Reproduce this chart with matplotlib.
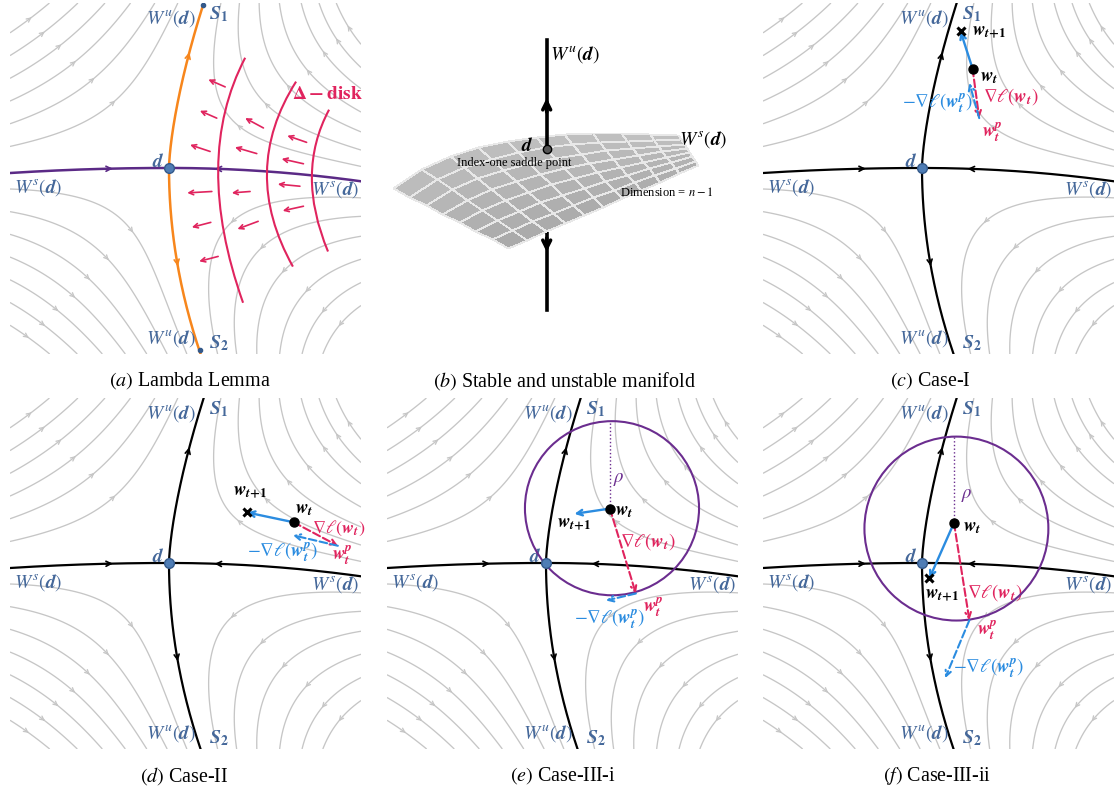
import numpy as np
import matplotlib.pyplot as plt
from matplotlib.path import Path
from matplotlib.patches import PathPatch, Circle

plt.rcParams["font.family"] = ["Liberation Serif", "DejaVu Serif"]
plt.rcParams["mathtext.fontset"] = "stix"

# ---- panel geometry (saddle d at origin, 35.1 px per unit) ----
XLIM = (-4.53, 5.47)
YLIM = (-5.30, 4.70)

# streamline seeds
LEFT_SEEDS_Y = [0.62, 1.27, 1.92, 2.57, 3.22, 3.87, 4.52,
                -0.60, -1.25, -1.90, -2.55, -3.20, -3.85, -4.50, -5.15]
RIGHT_SEEDS_Y = [0.05, 0.52, 1.04, 1.61, 2.28, 2.89, 3.56, 4.18,
                 -0.85, -1.38, -1.95, -2.61, -3.28, -3.94, -4.70]

WU_ARROW_Y = [3.3, -2.8]
WS_ARROW_X = [-1.6, 1.3]

# ---- panel (a) ----
A_S1 = (0.98, 4.65)
A_S2 = (0.88, -5.18)
A_DISK_TOP = [(2.17, 3.14), (3.62, 2.46), (4.56, 1.66)]
A_DISK_MID = [(1.40, -0.05), (2.79, -0.13), (4.07, -0.25)]
A_DISK_BOT = [(2.11, -3.84), (3.53, -2.81), (4.53, -2.38)]
A_ARROW_TAIL = [(1.60, 2.31), (1.36, 1.42), (1.17, 0.47), (2.69, 1.14), (2.50, 0.41),
                (3.92, 0.73), (3.83, 0.12), (3.73, -0.52), (1.22, -0.67), (2.31, -0.67),
                (3.83, -1.09), (1.19, -1.55), (2.54, -1.52), (1.40, -2.52)]
A_ARROW_HEAD = [(1.12, 2.52), (0.88, 1.63), (0.60, 0.66), (2.17, 1.42), (1.88, 0.59),
                (3.37, 0.92), (3.21, 0.26), (3.10, -0.46), (0.52, -0.71), (1.79, -0.71),
                (3.24, -1.22), (0.65, -1.69), (1.95, -1.74), (0.86, -2.66)]

# ---- panels (c)-(f): iterate positions ----
C_PTS = {"wt": (1.44, 2.83), "wt1": (1.10, 3.89), "wtp": (1.63, 1.42), "neg": (1.35, 2.42)}
D_PTS = {"wt": (3.55, 1.16), "wt1": (2.22, 1.44), "wtp": (4.81, 0.49), "neg": (3.53, 0.79)}
E_PTS = {"wt": (1.82, 1.55), "wt1": (0.81, 1.40), "wtp": (2.56, -0.87), "neg": (1.71, -1.07)}
F_PTS = {"wt": (0.91, 1.14), "wt1": (0.21, -0.44), "wtp": (1.35, -1.63), "neg": (0.66, -3.28)}
E_CIRCLE = (1.88, 1.56, 2.48)
F_CIRCLE = (0.98, 0.98, 2.62)

# ---- panel (b): surface corners in pixel space ----
B_CORNERS = {"L": (393, 188), "B": (678, 135), "F": (508, 248), "R": (698, 165)}
B_AXIS_X = 546.7
B_AXIS_Y = [40, 149, 310]

CAPTIONS = [(190, 381, "(a)", "Lambda Lemma"),
            (564, 381, "(b)", "Stable and unstable manifold"),
            (930, 381, "(c)", "Case-I"),
            (184, 776, "(d)", "Case-II"),
            (563, 776, "(e)", "Case-III-i"),
            (937, 776, "(f)", "Case-III-ii")]

LBL = "#45689a"
CRIMSON = "#e0245e"
BLUE = "#2b8ce0"
PURPLE = "#6b2d8f"
GRAY = "#c6c6c6"

WU = r"$W^{u}(\boldsymbol{d})$"
WS = r"$W^{s}(\boldsymbol{d})$"
WT = r"$\boldsymbol{w}_{\boldsymbol{t}}$"
WT1 = r"$\boldsymbol{w}_{\boldsymbol{t}\mathbf{+1}}$"
GRAD = r"$\nabla\ell(\boldsymbol{w}_{\boldsymbol{t}})$"
NEG = r"$-\nabla\ell(\boldsymbol{w}_{\boldsymbol{t}}^{\boldsymbol{p}})$"
WTP = r"$\boldsymbol{w}_{\boldsymbol{t}}^{\boldsymbol{p}}$"
FS = 13.5


def g(y):
    y = np.asarray(y, float)
    return np.where(y >= 0, 0.097 * np.abs(y) ** 1.5, 0.032 * y ** 2)


def gp(y):
    return np.where(y >= 0, 0.1455 * np.sqrt(np.abs(y)), 0.064 * y)


def h(x):
    x = np.asarray(x, float)
    return np.where(x >= 0, -0.0127, -0.007) * x ** 2


def hp(x):
    return 2 * np.where(x >= 0, -0.0127, -0.007) * x


def field(X, Y):
    xi = X - g(Y)
    eta = Y - h(X)
    a, b = gp(Y), hp(X)
    U = (-xi + a * eta) / (1 - a * b)
    V = eta + b * U
    return U, V


def panel(rect, flow_color="black", ws_color="black", lw=1.6):
    l, t = rect
    ax = fig.add_axes([l / 1114, 1 - (t + 351) / 798, 351 / 1114, 351 / 798])
    ax.set_xlim(*XLIM)
    ax.set_ylim(*YLIM)
    ax.set_axis_off()
    xs = np.linspace(XLIM[0], XLIM[1], 220)
    ys = np.linspace(YLIM[0], YLIM[1], 220)
    X, Y = np.meshgrid(xs, ys)
    U, V = field(X, Y)
    seeds = [(-4.50, y) for y in LEFT_SEEDS_Y] + [(5.44, y) for y in RIGHT_SEEDS_Y]
    kw = dict(color=GRAY, linewidth=0.95, arrowsize=0.7, arrowstyle="->",
              start_points=seeds, integration_direction="both",
              broken_streamlines=False, maxlength=20, density=3)
    try:
        ax.streamplot(xs, ys, U, V, num_arrows=2, **kw)
    except TypeError:
        ax.streamplot(xs, ys, U, V, **kw)
    yy = np.linspace(YLIM[0], YLIM[1], 300)
    xx = np.linspace(XLIM[0], XLIM[1], 300)
    ax.plot(g(yy), yy, color=flow_color, lw=lw, zorder=3)
    ax.plot(xx, h(xx), color=ws_color, lw=lw, zorder=3)
    for y0 in WU_ARROW_Y:
        s = np.sign(y0)
        ax.annotate("", xy=(float(g(y0)), y0), xytext=(float(g(y0 - 0.2 * s)), y0 - 0.2 * s),
                    arrowprops=dict(arrowstyle="->", color=flow_color, lw=1.2,
                                    shrinkA=0, shrinkB=0, mutation_scale=9), zorder=4)
    for x0 in WS_ARROW_X:
        s = -np.sign(x0)
        ax.annotate("", xy=(x0, float(h(x0))), xytext=(x0 - 0.2 * s, float(h(x0 - 0.2 * s))),
                    arrowprops=dict(arrowstyle="->", color=ws_color, lw=1.2,
                                    shrinkA=0, shrinkB=0, mutation_scale=9), zorder=4)
    ax.plot(0, 0, "o", color="#4f7db5", mec="#34598a", ms=7, mew=1, zorder=6)
    fs = 14
    ax.text(0.05, 4.23, WU, color=LBL, fontsize=fs, ha="center", va="center")
    ax.text(0.05, -4.89, WU, color=LBL, fontsize=fs, ha="center", va="center")
    ax.text(1.42, 4.37, r"$\boldsymbol{S}_{\mathbf{1}}$", color=LBL, fontsize=fs, ha="center", va="center")
    ax.text(1.42, -4.98, r"$\boldsymbol{S}_{\mathbf{2}}$", color=LBL, fontsize=fs, ha="center", va="center")
    ax.text(-3.73, -0.56, WS, color=LBL, fontsize=fs, ha="center", va="center")
    ax.text(4.73, -0.62, WS, color=LBL, fontsize=fs, ha="center", va="center")
    ax.text(-0.31, 0.17, r"$\boldsymbol{d}$", color=LBL, fontsize=fs, ha="center", va="center")
    return ax


def arrow(ax, p0, p1, color, ls="-", lw=1.5):
    ax.annotate("", xy=p1, xytext=p0,
                arrowprops=dict(arrowstyle="->", color=color, lw=lw, linestyle=ls,
                                shrinkA=0, shrinkB=0, mutation_scale=10), zorder=7)


def iterate(ax, pts, cross=True):
    arrow(ax, pts["wt"], pts["wt1"], BLUE, lw=1.7)
    arrow(ax, pts["wt"], pts["wtp"], CRIMSON, ls="--")
    arrow(ax, pts["wtp"], pts["neg"], BLUE, ls="--")
    ax.plot(*pts["wt"], "o", color="black", ms=6.5, zorder=8)
    if cross:
        ax.plot(*pts["wt1"], "x", color="black", ms=5.5, mew=2.2, zorder=8)


fig = plt.figure(figsize=(11.14, 7.98), dpi=100)

# (a)
ax = panel((10, 3), flow_color="#f7861c", ws_color="#5b2a86", lw=1.8)
ax.plot(*A_S1, "o", color="#34598a", ms=3, zorder=6)
ax.plot(*A_S2, "o", color="#34598a", ms=3, zorder=6)
for top, mid, bot in zip(A_DISK_TOP, A_DISK_MID, A_DISK_BOT):
    ctrl = (2 * mid[0] - (top[0] + bot[0]) / 2, 2 * mid[1] - (top[1] + bot[1]) / 2)
    ax.add_patch(PathPatch(Path([top, ctrl, bot], [Path.MOVETO, Path.CURVE3, Path.CURVE3]),
                           fc="none", ec=CRIMSON, lw=1.5, zorder=5))
for t0, h0 in zip(A_ARROW_TAIL, A_ARROW_HEAD):
    ax.annotate("", xy=h0, xytext=t0,
                arrowprops=dict(arrowstyle="->", color=CRIMSON, lw=1.2,
                                shrinkA=0, shrinkB=0, mutation_scale=8), zorder=6)
ax.text(4.50, 2.09, r"$\mathbf{\Delta - disk}$", color=CRIMSON, fontsize=14,
        ha="center", va="center")

# (c)
ax = panel((763, 3))
iterate(ax, C_PTS)
ax.text(1.42, 3.85, WT1, fontsize=FS, ha="left", va="center")
ax.text(1.65, 2.57, WT, fontsize=FS, ha="left", va="center")
ax.text(1.74, 2.03, GRAD, color=CRIMSON, fontsize=FS, ha="left", va="center")
ax.text(1.47, 1.86, NEG, color=BLUE, fontsize=FS, ha="right", va="center")
ax.text(1.71, 1.03, WTP, color=CRIMSON, fontsize=FS, ha="left", va="center")

# (d)
ax = panel((10, 398))
iterate(ax, D_PTS)
ax.text(2.30, 2.00, WT1, fontsize=FS, ha="center", va="center")
ax.text(3.60, 1.52, WT, fontsize=FS, ha="left", va="center")
ax.text(4.08, 0.98, GRAD, color=CRIMSON, fontsize=FS - 0.5, ha="left", va="center")
ax.text(3.25, 0.32, NEG, color=BLUE, fontsize=FS, ha="center", va="center")
ax.text(4.95, 0.22, WTP, color=CRIMSON, fontsize=FS, ha="center", va="center")

# (e)
ax = panel((387, 398))
cx, cy, r = E_CIRCLE
ax.add_patch(Circle((cx, cy), r, fc="none", ec=PURPLE, lw=1.5, zorder=5))
ax.plot([E_PTS["wt"][0]] * 2, [E_PTS["wt"][1], cy + r], ":", color=PURPLE, lw=1, zorder=5)
iterate(ax, E_PTS, cross=False)
ax.text(2.06, 2.37, r"$\rho$", color=PURPLE, fontsize=FS, ha="center", va="center")
ax.text(1.97, 1.46, WT, fontsize=FS, ha="left", va="center")
ax.text(0.80, 1.09, WT1, fontsize=FS, ha="center", va="center")
ax.text(2.89, 0.61, GRAD, color=CRIMSON, fontsize=FS, ha="center", va="center")
ax.text(3.05, -1.25, WTP, color=CRIMSON, fontsize=FS, ha="center", va="center")
ax.text(1.82, -1.61, NEG, color=BLUE, fontsize=FS, ha="center", va="center")

# (f)
ax = panel((763, 398))
cx, cy, r = F_CIRCLE
ax.add_patch(Circle((cx, cy), r, fc="none", ec=PURPLE, lw=1.5, zorder=5))
ax.plot([F_PTS["wt"][0]] * 2, [F_PTS["wt"][1], cy + r], ":", color=PURPLE, lw=1, zorder=5)
iterate(ax, F_PTS)
ax.text(1.27, 1.93, r"$\rho$", color=PURPLE, fontsize=FS, ha="center", va="center")
ax.text(1.17, 1.02, WT, fontsize=FS, ha="left", va="center")
ax.text(0.58, -0.92, WT1, fontsize=FS, ha="center", va="center")
ax.text(2.08, -0.83, GRAD, color=CRIMSON, fontsize=FS, ha="center", va="center")
ax.text(1.85, -1.92, WTP, color=CRIMSON, fontsize=FS, ha="center", va="center")
ax.text(1.91, -3.00, NEG, color=BLUE, fontsize=FS, ha="center", va="center")

# (b) surface sketch, pixel coordinates
ax = fig.add_axes([380 / 1114, 1 - 360 / 798, 370 / 1114, 360 / 798])
ax.set_xlim(380, 750)
ax.set_ylim(360, 0)
ax.set_axis_off()
u, v = np.meshgrid(np.linspace(0, 1, 8), np.linspace(0, 1, 11), indexing="ij")
Lc, Bc, Fc, Rc = (np.array(B_CORNERS[k], float) for k in "LBFR")
P = ((1 - u)[..., None] * (1 - v)[..., None] * Lc + (1 - u)[..., None] * v[..., None] * Bc
     + u[..., None] * (1 - v)[..., None] * Fc + u[..., None] * v[..., None] * Rc)
SX = P[..., 0]
SY = (P[..., 1] - 26 * (1 - u) * np.sin(np.pi * v ** 0.75)
      + 5 * u * (1 - u) * np.sin(np.pi * v))
uc = 0.5 * (u[1:, 1:] + u[:-1, :-1])
vc = 0.5 * (v[1:, 1:] + v[:-1, :-1])
shade = 0.74 - 0.08 * uc + 0.02 * vc
ax.pcolormesh(SX, SY, shade, cmap="gray", vmin=0, vmax=1, edgecolors="#e8e8e8",
              linewidth=0.6, zorder=2, shading="flat")
ax.plot([B_AXIS_X, B_AXIS_X], [B_AXIS_Y[1], B_AXIS_Y[2]], color="black", lw=2.6, zorder=1)
ax.plot([B_AXIS_X, B_AXIS_X], [B_AXIS_Y[0], B_AXIS_Y[1]], color="black", lw=2.6, zorder=3)
ax.annotate("", xy=(B_AXIS_X, 98), xytext=(B_AXIS_X, 112),
            arrowprops=dict(arrowstyle="->", color="black", lw=2.6, shrinkA=0, shrinkB=0,
                            mutation_scale=14), zorder=4)
ax.annotate("", xy=(B_AXIS_X, 252), xytext=(B_AXIS_X, 238),
            arrowprops=dict(arrowstyle="->", color="black", lw=2.6, shrinkA=0, shrinkB=0,
                            mutation_scale=14), zorder=4)
ax.plot(B_AXIS_X, B_AXIS_Y[1], "o", color="#555555", mec="black", ms=6, zorder=5)
ax.text(550, 55, WU, fontsize=14, ha="left", va="center")
ax.text(527, 146, r"$\boldsymbol{d}$", fontsize=14, ha="center", va="center", zorder=6)
ax.text(514, 163, "Index-one saddle point", fontsize=9, ha="center", va="center", zorder=6)
ax.text(703, 140, WS, fontsize=14, ha="center", va="center")
ax.text(667, 192, r"Dimension = $n - 1$", fontsize=9, ha="center", va="center")

for x, y, tag, name in CAPTIONS:
    fig.text(x / 1114, 1 - y / 798, r"$\mathit{" + tag + "}$ " + name,
             fontsize=14.4, ha="center", va="center")

fig.savefig("out.png", dpi=100)
